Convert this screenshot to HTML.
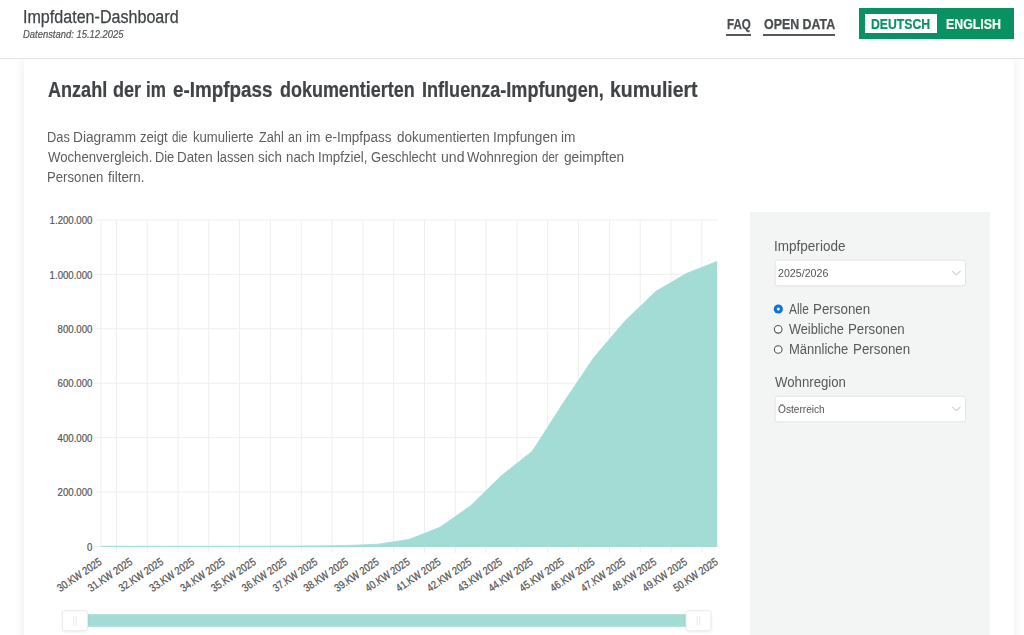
<!DOCTYPE html>
<html lang="de">
<head>
<meta charset="utf-8">
<title>Impfdaten-Dashboard</title>
<style>
*{box-sizing:border-box}
html,body{margin:0;padding:0}
body{width:1024px;height:635px;overflow:hidden;position:relative;background:#fff;font-family:"Liberation Sans",sans-serif;}
.t{position:absolute;white-space:nowrap;line-height:1;transform-origin:0 0;display:block;margin:0;font-weight:400}
#hdr{position:absolute;left:0;top:0;width:1024px;height:59px;background:#fff;border-bottom:1px solid #e4e4e4}
#card{position:absolute;left:24px;top:59px;width:989.5px;height:600px;background:#fff;box-shadow:0 0 10px rgba(0,0,0,.085)}
#panel{position:absolute;left:750px;top:212px;width:240px;height:440px;background:#f3f5f4}
.ul{position:absolute;height:2.2px;background:#585858}
#lang{position:absolute;left:859px;top:8px;width:155px;height:31px;background:#0a9162}
#de{position:absolute;left:864.9px;top:13.8px;width:72.5px;height:19.6px;background:#fff}
svg{position:absolute;left:0;top:0}
</style>
</head>
<body>
<div id="card"></div>
<div id="hdr"></div>
<header>
<span class="t" style="left:23.31px;top:7px;font-size:18px;line-height:20px;color:#3f4447;transform:scaleX(0.8937);-webkit-text-stroke:0.25px #3f4447;">Impfdaten-Dashboard</span>
<span class="t" style="left:22.90px;top:28px;font-size:10.5px;line-height:12px;color:#555;transform:scaleX(0.8971);font-style:italic;-webkit-text-stroke:0.2px #555;">Datenstand: 15.12.2025</span>
<nav>
<span class="t" style="left:726.90px;top:16px;font-size:14px;line-height:16px;color:#4a4d4f;transform:scaleX(0.8273);font-weight:700;-webkit-text-stroke:0.25px #4a4d4f;">FAQ</span>
<span class="t" style="left:763.90px;top:16px;font-size:14px;line-height:16px;color:#4a4d4f;transform:scaleX(0.8859);font-weight:700;-webkit-text-stroke:0.25px #4a4d4f;">OPEN DATA</span>
<div class="ul" style="left:726.1px;top:33.6px;width:25.2px"></div>
<div class="ul" style="left:763.3px;top:33.6px;width:71.9px"></div>
<div id="lang"></div><div id="de"></div>
<span class="t" style="left:871.30px;top:16px;font-size:14px;line-height:16px;color:#0a9162;transform:scaleX(0.8733);font-weight:700;-webkit-text-stroke:0.2px #0a9162;">DEUTSCH</span>
<span class="t" style="left:946.20px;top:16px;font-size:14px;line-height:16px;color:#ffffff;transform:scaleX(0.8838);font-weight:700;-webkit-text-stroke:0.2px #ffffff;">ENGLISH</span>
</nav>
</header>
<h1 class="t" style="left:0;top:0;font-size:0">
<span class="t" style="left:47.60px;top:77px;font-size:22px;line-height:25px;color:#3f4446;transform:scaleX(0.8211);font-weight:700;-webkit-text-stroke:0.22px #3f4446;">Anzahl</span>
<span class="t" style="left:112.80px;top:77px;font-size:22px;line-height:25px;color:#3f4446;transform:scaleX(0.8219);font-weight:700;-webkit-text-stroke:0.22px #3f4446;">der</span>
<span class="t" style="left:146.42px;top:77px;font-size:22px;line-height:25px;color:#3f4446;transform:scaleX(0.7755);font-weight:700;-webkit-text-stroke:0.22px #3f4446;">im</span>
<span class="t" style="left:172.90px;top:77px;font-size:22px;line-height:25px;color:#3f4446;transform:scaleX(0.8558);font-weight:700;-webkit-text-stroke:0.22px #3f4446;">e-Impfpass</span>
<span class="t" style="left:280.20px;top:77px;font-size:22px;line-height:25px;color:#3f4446;transform:scaleX(0.8160);font-weight:700;-webkit-text-stroke:0.22px #3f4446;">dokumentierten</span>
<span class="t" style="left:422.48px;top:77px;font-size:22px;line-height:25px;color:#3f4446;transform:scaleX(0.8216);font-weight:700;-webkit-text-stroke:0.22px #3f4446;">Influenza-Impfungen,</span>
<span class="t" style="left:610.12px;top:77px;font-size:22px;line-height:25px;color:#3f4446;transform:scaleX(0.8845);font-weight:700;-webkit-text-stroke:0.22px #3f4446;">kumuliert</span>
</h1>
<p class="t" style="left:0;top:0;font-size:0">
<span class="t" style="left:46.88px;top:129px;font-size:14px;line-height:16px;color:#5e5e5e;transform:scaleX(0.9165);">Das</span>
<span class="t" style="left:73.12px;top:129px;font-size:14px;line-height:16px;color:#5e5e5e;transform:scaleX(0.9777);">Diagramm</span>
<span class="t" style="left:140.00px;top:129px;font-size:14px;line-height:16px;color:#5e5e5e;transform:scaleX(0.9366);">zeigt</span>
<span class="t" style="left:172.00px;top:129px;font-size:14px;line-height:16px;color:#5e5e5e;transform:scaleX(0.8308);">die</span>
<span class="t" style="left:193.40px;top:129px;font-size:14px;line-height:16px;color:#5e5e5e;transform:scaleX(0.9368);">kumulierte</span>
<span class="t" style="left:258.75px;top:129px;font-size:14px;line-height:16px;color:#5e5e5e;transform:scaleX(0.9088);">Zahl</span>
<span class="t" style="left:288.10px;top:129px;font-size:14px;line-height:16px;color:#5e5e5e;transform:scaleX(0.8893);">an</span>
<span class="t" style="left:305.90px;top:129px;font-size:14px;line-height:16px;color:#5e5e5e;transform:scaleX(0.9851);">im</span>
<span class="t" style="left:324.80px;top:129px;font-size:14px;line-height:16px;color:#5e5e5e;transform:scaleX(0.9596);">e-Impfpass</span>
<span class="t" style="left:396.70px;top:129px;font-size:14px;line-height:16px;color:#5e5e5e;transform:scaleX(0.9617);">dokumentierten</span>
<span class="t" style="left:492.77px;top:129px;font-size:14px;line-height:16px;color:#5e5e5e;transform:scaleX(0.9779);">Impfungen</span>
<span class="t" style="left:561.10px;top:129px;font-size:14px;line-height:16px;color:#5e5e5e;transform:scaleX(0.9780);">im</span>
<span class="t" style="left:47.80px;top:149px;font-size:14px;line-height:16px;color:#5e5e5e;transform:scaleX(0.9393);">Wochenvergleich.</span>
<span class="t" style="left:154.69px;top:149px;font-size:14px;line-height:16px;color:#5e5e5e;transform:scaleX(0.9149);">Die</span>
<span class="t" style="left:177.35px;top:149px;font-size:14px;line-height:16px;color:#5e5e5e;transform:scaleX(0.9530);">Daten</span>
<span class="t" style="left:216.90px;top:149px;font-size:14px;line-height:16px;color:#5e5e5e;transform:scaleX(0.9173);">lassen</span>
<span class="t" style="left:258.30px;top:149px;font-size:14px;line-height:16px;color:#5e5e5e;transform:scaleX(0.9581);">sich</span>
<span class="t" style="left:286.10px;top:149px;font-size:14px;line-height:16px;color:#5e5e5e;transform:scaleX(0.9502);">nach</span>
<span class="t" style="left:317.95px;top:149px;font-size:14px;line-height:16px;color:#5e5e5e;transform:scaleX(0.9495);">Impfziel,</span>
<span class="t" style="left:371.25px;top:149px;font-size:14px;line-height:16px;color:#5e5e5e;transform:scaleX(0.9316);">Geschlecht</span>
<span class="t" style="left:441.25px;top:149px;font-size:14px;line-height:16px;color:#5e5e5e;transform:scaleX(1.0034);">und</span>
<span class="t" style="left:466.80px;top:149px;font-size:14px;line-height:16px;color:#5e5e5e;transform:scaleX(0.9416);">Wohnregion</span>
<span class="t" style="left:542.20px;top:149px;font-size:14px;line-height:16px;color:#5e5e5e;transform:scaleX(0.8215);">der</span>
<span class="t" style="left:563.75px;top:149px;font-size:14px;line-height:16px;color:#5e5e5e;transform:scaleX(0.9778);">geimpften</span>
<span class="t" style="left:46.86px;top:169px;font-size:14px;line-height:16px;color:#5e5e5e;transform:scaleX(0.9408);">Personen</span>
<span class="t" style="left:107.50px;top:169px;font-size:14px;line-height:16px;color:#5e5e5e;transform:scaleX(0.9561);">filtern.</span>
</p>
<div id="panel"></div>
<svg width="1024" height="635" viewBox="0 0 1024 635" font-family="Liberation Sans, sans-serif">
<g stroke="#eeeeee" stroke-width="1">
<line x1="94.5" x2="717.2" y1="220.0" y2="220.0"/>
<line x1="94.5" x2="717.2" y1="274.4" y2="274.4"/>
<line x1="94.5" x2="717.2" y1="328.8" y2="328.8"/>
<line x1="94.5" x2="717.2" y1="383.2" y2="383.2"/>
<line x1="94.5" x2="717.2" y1="437.6" y2="437.6"/>
<line x1="94.5" x2="717.2" y1="492.0" y2="492.0"/>
<line x1="94.5" x2="717.2" y1="546.4" y2="546.4"/>
<line x1="101.0" x2="101.0" y1="220" y2="546.4"/>
<line x1="116.4" x2="116.4" y1="220" y2="552.9"/>
<line x1="147.2" x2="147.2" y1="220" y2="552.9"/>
<line x1="178.0" x2="178.0" y1="220" y2="552.9"/>
<line x1="208.8" x2="208.8" y1="220" y2="552.9"/>
<line x1="239.6" x2="239.6" y1="220" y2="552.9"/>
<line x1="270.5" x2="270.5" y1="220" y2="552.9"/>
<line x1="301.3" x2="301.3" y1="220" y2="552.9"/>
<line x1="332.1" x2="332.1" y1="220" y2="552.9"/>
<line x1="362.9" x2="362.9" y1="220" y2="552.9"/>
<line x1="393.7" x2="393.7" y1="220" y2="552.9"/>
<line x1="424.5" x2="424.5" y1="220" y2="552.9"/>
<line x1="455.3" x2="455.3" y1="220" y2="552.9"/>
<line x1="486.1" x2="486.1" y1="220" y2="552.9"/>
<line x1="516.9" x2="516.9" y1="220" y2="552.9"/>
<line x1="547.7" x2="547.7" y1="220" y2="552.9"/>
<line x1="578.6" x2="578.6" y1="220" y2="552.9"/>
<line x1="609.4" x2="609.4" y1="220" y2="552.9"/>
<line x1="640.2" x2="640.2" y1="220" y2="552.9"/>
<line x1="671.0" x2="671.0" y1="220" y2="552.9"/>
<line x1="701.8" x2="701.8" y1="220" y2="552.9"/>
</g>
<polygon points="101.0,546.9 101.0,546.3 131.8,546.3 162.6,546.3 193.4,546.3 224.2,546.3 255.1,546.2 285.9,546.1 316.7,545.9 347.5,545.5 378.3,544.2 409.1,539.4 439.9,527.3 470.7,505.8 501.5,475.6 532.3,451.2 563.2,403.0 594.0,357.3 624.8,321.2 655.6,291.6 686.4,273.4 717.2,261.4 717.2,546.9" fill="#a2dcd4"/>
<polyline points="101.0,546.3 131.8,546.3 162.6,546.3 193.4,546.3 224.2,546.3 255.1,546.2 285.9,546.1 316.7,545.9 347.5,545.5 378.3,544.2 409.1,539.4 439.9,527.3 470.7,505.8 501.5,475.6 532.3,451.2 563.2,403.0 594.0,357.3 624.8,321.2 655.6,291.6 686.4,273.4 717.2,261.4" fill="none" stroke="#a2dcd4" stroke-width="0.8"/>
<g font-size="11" fill="#555" stroke="#555" stroke-width="0.25" text-anchor="end">
<text transform="translate(100.4,560.4) rotate(-34) scale(0.845,1)" dy="3.9">30.KW 2025</text>
<text transform="translate(131.2,560.4) rotate(-34) scale(0.845,1)" dy="3.9">31.KW 2025</text>
<text transform="translate(162.0,560.4) rotate(-34) scale(0.845,1)" dy="3.9">32.KW 2025</text>
<text transform="translate(192.8,560.4) rotate(-34) scale(0.845,1)" dy="3.9">33.KW 2025</text>
<text transform="translate(223.6,560.4) rotate(-34) scale(0.845,1)" dy="3.9">34.KW 2025</text>
<text transform="translate(254.5,560.4) rotate(-34) scale(0.845,1)" dy="3.9">35.KW 2025</text>
<text transform="translate(285.3,560.4) rotate(-34) scale(0.845,1)" dy="3.9">36.KW 2025</text>
<text transform="translate(316.1,560.4) rotate(-34) scale(0.845,1)" dy="3.9">37.KW 2025</text>
<text transform="translate(346.9,560.4) rotate(-34) scale(0.845,1)" dy="3.9">38.KW 2025</text>
<text transform="translate(377.7,560.4) rotate(-34) scale(0.845,1)" dy="3.9">39.KW 2025</text>
<text transform="translate(408.5,560.4) rotate(-34) scale(0.845,1)" dy="3.9">40.KW 2025</text>
<text transform="translate(439.3,560.4) rotate(-34) scale(0.845,1)" dy="3.9">41.KW 2025</text>
<text transform="translate(470.1,560.4) rotate(-34) scale(0.845,1)" dy="3.9">42.KW 2025</text>
<text transform="translate(500.9,560.4) rotate(-34) scale(0.845,1)" dy="3.9">43.KW 2025</text>
<text transform="translate(531.7,560.4) rotate(-34) scale(0.845,1)" dy="3.9">44.KW 2025</text>
<text transform="translate(562.6,560.4) rotate(-34) scale(0.845,1)" dy="3.9">45.KW 2025</text>
<text transform="translate(593.4,560.4) rotate(-34) scale(0.845,1)" dy="3.9">46.KW 2025</text>
<text transform="translate(624.2,560.4) rotate(-34) scale(0.845,1)" dy="3.9">47.KW 2025</text>
<text transform="translate(655.0,560.4) rotate(-34) scale(0.845,1)" dy="3.9">48.KW 2025</text>
<text transform="translate(685.8,560.4) rotate(-34) scale(0.845,1)" dy="3.9">49.KW 2025</text>
<text transform="translate(716.6,560.4) rotate(-34) scale(0.845,1)" dy="3.9">50.KW 2025</text>
</g>
<g font-size="11" fill="#555" stroke="#555" stroke-width="0.2" text-anchor="end">
<text transform="translate(92.4,224.2) scale(0.875,1)">1.200.000</text>
<text transform="translate(92.4,278.6) scale(0.875,1)">1.000.000</text>
<text transform="translate(92.4,333.0) scale(0.875,1)">800.000</text>
<text transform="translate(92.4,387.4) scale(0.875,1)">600.000</text>
<text transform="translate(92.4,441.8) scale(0.875,1)">400.000</text>
<text transform="translate(92.4,496.2) scale(0.875,1)">200.000</text>
<text transform="translate(92.4,550.6) scale(0.875,1)">0</text>
</g>
<rect x="87" y="614.2" width="599" height="12.6" fill="#a2dcd4"/>
<rect x="62.5" y="610.7" width="25" height="20" rx="2.5" fill="#fff" stroke="#eaeaea" stroke-width="1" style="filter:drop-shadow(0 1px 1px rgba(0,0,0,.07))"/>
<path d="M73.7 616V625.4M76.1 616V625.4" stroke="#e9e9e9" stroke-width="1" fill="none"/>
<rect x="686" y="610.7" width="25" height="20" rx="2.5" fill="#fff" stroke="#eaeaea" stroke-width="1" style="filter:drop-shadow(0 1px 1px rgba(0,0,0,.07))"/>
<path d="M697.2 616V625.4M699.6 616V625.4" stroke="#e9e9e9" stroke-width="1" fill="none"/>
</svg>
<svg width="1024" height="635" viewBox="0 0 1024 635">
<rect x="775.2" y="260.1" width="190.3" height="25.7" rx="2.5" fill="#fff" stroke="#e2e2e2" stroke-width="1"/>
<rect x="775.2" y="396.2" width="190.3" height="25.7" rx="2.5" fill="#fff" stroke="#e2e2e2" stroke-width="1"/>
<polyline points="952.2,270.9 956.4,275.1 960.6,270.9" fill="none" stroke="#bbb" stroke-width="1"/>
<polyline points="952.2,406.7 956.4,410.90000000000003 960.6,406.7" fill="none" stroke="#bbb" stroke-width="1"/>
<circle cx="778.3" cy="309" r="4.6" fill="#0a72e0"/><circle cx="778.3" cy="309" r="1.5" fill="#fff"/>
<circle cx="778.2" cy="329.3" r="3.8" fill="#fff" stroke="#555" stroke-width="1.1"/>
<circle cx="778.2" cy="349.5" r="3.8" fill="#fff" stroke="#555" stroke-width="1.1"/>
</svg>
<aside>
<span class="t" style="left:773.73px;top:238px;font-size:14px;line-height:16px;color:#585858;transform:scaleX(0.9666);">Impfperiode</span>
<span class="t" style="left:778.00px;top:267px;font-size:11px;line-height:12px;color:#555;transform:scaleX(0.9676);">2025/2026</span>
<span class="t" style="left:789.10px;top:301px;font-size:14px;line-height:16px;color:#585858;transform:scaleX(0.8489);">Alle</span>
<span class="t" style="left:812.80px;top:301px;font-size:14px;line-height:16px;color:#585858;transform:scaleX(0.9537);">Personen</span>
<span class="t" style="left:789.10px;top:321px;font-size:14px;line-height:16px;color:#585858;transform:scaleX(0.9085);">Weibliche</span>
<span class="t" style="left:848.45px;top:321px;font-size:14px;line-height:16px;color:#585858;transform:scaleX(0.9459);">Personen</span>
<span class="t" style="left:788.57px;top:341px;font-size:14px;line-height:16px;color:#585858;transform:scaleX(0.9298);">Männliche</span>
<span class="t" style="left:852.65px;top:341px;font-size:14px;line-height:16px;color:#585858;transform:scaleX(0.9545);">Personen</span>
<span class="t" style="left:774.70px;top:374px;font-size:14px;line-height:16px;color:#585858;transform:scaleX(0.9429);">Wohnregion</span>
<span class="t" style="left:778.00px;top:403px;font-size:11px;line-height:12px;color:#555;transform:scaleX(0.9206);">Österreich</span>
</aside>
</body>
</html>
